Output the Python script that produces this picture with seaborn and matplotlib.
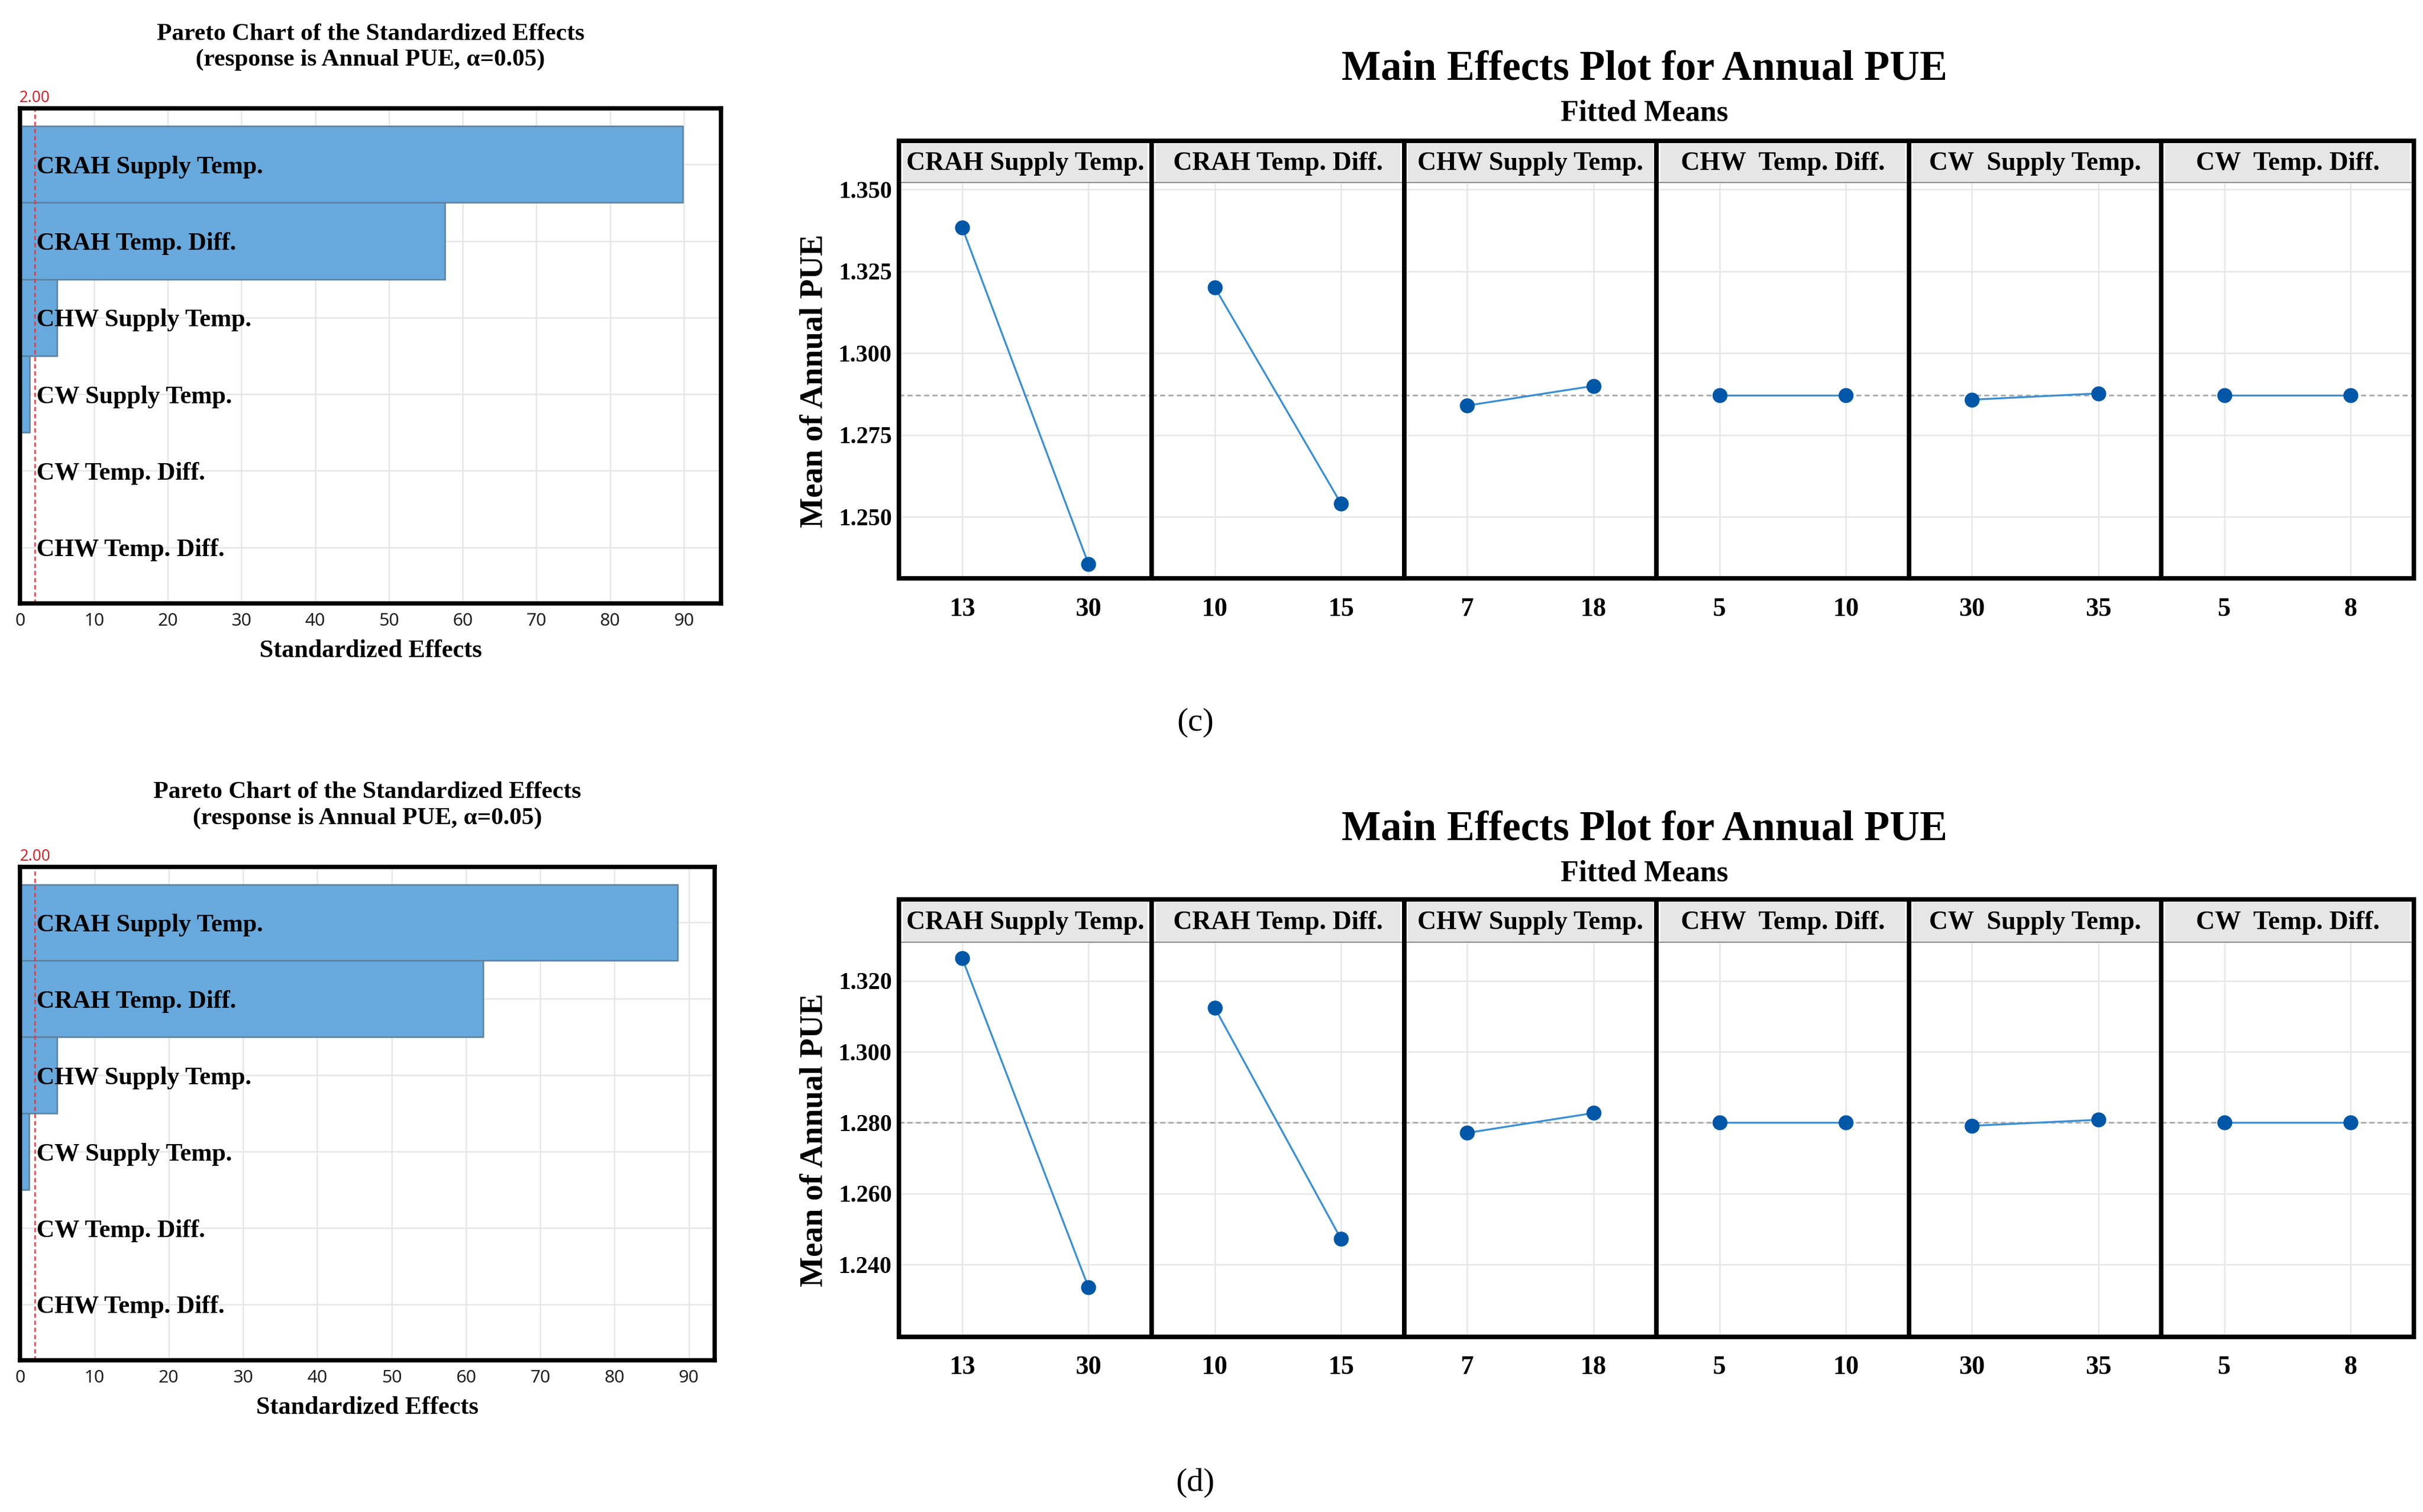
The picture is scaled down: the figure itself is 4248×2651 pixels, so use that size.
import numpy as np
import pandas as pd
import matplotlib.pyplot as plt
import seaborn as sns
from matplotlib.patches import Rectangle

# Pareto chart data (standardized effects)
factors = ["CRAH Supply Temp.", "CRAH Temp. Diff.", "CHW Supply Temp.",
           "CW Supply Temp.", "CW Temp. Diff.", "CHW Temp. Diff."]
effects_c = [89.8, 57.6, 5.0, 1.3, 0.0, 0.0]
effects_d = [88.5, 62.3, 5.0, 1.2, 0.0, 0.0]
t_crit = 2.00

# main effects data (fitted means)
panel_names = ["CRAH Supply Temp.", "CRAH Temp. Diff.", "CHW Supply Temp.",
               "CHW  Temp. Diff.", "CW  Supply Temp.", "CW  Temp. Diff."]
levels = [["13", "30"], ["10", "15"], ["7", "18"], ["5", "10"], ["30", "35"], ["5", "8"]]
means_c = [[1.3383, 1.2356], [1.3201, 1.2541], [1.2840, 1.2900],
           [1.2871, 1.2871], [1.2858, 1.2877], [1.2871, 1.2871]]
means_d = [[1.3263, 1.2335], [1.3124, 1.2472], [1.2771, 1.2827],
           [1.2800, 1.2800], [1.2791, 1.2808], [1.2800, 1.2800]]
grand_c = 1.2871
grand_d = 1.2800
yticks_c = [1.250, 1.275, 1.300, 1.325, 1.350]
yticks_d = [1.240, 1.260, 1.280, 1.300, 1.320]
ylim_c = (1.2312, 1.3520)
ylim_d = (1.2196, 1.3307)

sns.set_style("white")
plt.rcParams["font.family"] = ["Liberation Serif", "DejaVu Serif"]
plt.rcParams["text.color"] = "black"
plt.rcParams["axes.labelcolor"] = "black"
plt.rcParams["xtick.color"] = "black"
plt.rcParams["ytick.color"] = "black"

SANS = "Noto Sans"
BAR = "#67a9dc"
BAR_EDGE = "#5b7f9e"
LINE = "#3a8fd4"
DOT = "#0057a8"
GRID = "#e6e6e6"

fig = plt.figure(figsize=(14.16, 8.837), dpi=300)


def pareto(box, effects, xmax):
    ax = fig.add_axes(box)
    df = pd.DataFrame({"factor": factors, "effect": effects})
    sns.barplot(data=df, x="effect", y="factor", orient="h", width=1.0,
                color=BAR, edgecolor=BAR_EDGE, linewidth=0.6, saturation=1, ax=ax)
    ax.set_ylim(len(factors) - 0.27, -0.73)
    ax.set_xlim(0, xmax)
    ax.set_xticks(np.arange(0, 91, 10))
    # grid behind the bars, factor names on top of them
    ax.grid(False)
    for xv in ax.get_xticks():
        ax.axvline(xv, color=GRID, linewidth=0.6, zorder=0)
    for yv in ax.get_yticks():
        ax.axhline(yv, color=GRID, linewidth=0.6, zorder=0)
    ax.yaxis.set_zorder(5)
    ax.axvline(t_crit, color="#e0393e", linestyle=(0, (3, 2)), linewidth=0.6, zorder=3)
    ax.text(t_crit, 1.005, f"{t_crit:.2f}", color="#d0262c", fontsize=6.5,
            family=SANS, ha="center", va="bottom",
            transform=ax.get_xaxis_transform())
    ax.tick_params(axis="y", direction="out", length=2, width=0.5, color="#bbbbbb",
                   labelcolor="black", pad=-9, labelsize=10.5)
    for lbl in ax.get_yticklabels():
        lbl.set_ha("left")
        lbl.set_fontweight("bold")
    ax.tick_params(axis="x", length=2, width=0.5, color="#bbbbbb", labelcolor="#222222",
                   labelsize=7.5, pad=2)
    for lbl in ax.get_xticklabels():
        lbl.set_family(SANS)
    ax.set_ylabel("")
    ax.set_xlabel("Standardized Effects", fontsize=10.5, fontweight="bold", labelpad=4)
    for s in ax.spines.values():
        s.set_linewidth(1.8)
        s.set_color("black")
        s.set_zorder(6)
    ax.set_title("Pareto Chart of the Standardized Effects\n(response is Annual PUE, \u03b1=0.05)",
                 fontsize=10.3, fontweight="bold", pad=18, linespacing=1.25)


def main_effects(left, right, bottom, strip_bottom, top, means, grand, yticks, ylim, title_y):
    n = len(panel_names)
    w = (right - left) / n
    plot_h = strip_bottom - bottom
    strip_h = top - strip_bottom
    for i in range(n):
        ax = fig.add_axes([left + i * w, bottom, w, plot_h])
        d = pd.DataFrame({"level": levels[i], "pue": means[i]})
        sns.pointplot(data=d, x="level", y="pue", order=levels[i], color=LINE,
                      errorbar=None, markersize=0, linewidth=0.8, ax=ax)
        sns.stripplot(data=d, x="level", y="pue", order=levels[i], color=DOT,
                      jitter=False, size=6.3, linewidth=0, ax=ax, zorder=4)
        ax.axhline(grand, color="#aaaaaa", linestyle=(0, (3, 2)), linewidth=0.7, zorder=1)
        ax.set_xlim(-0.5, 1.5)
        ax.set_ylim(*ylim)
        ax.set_yticks(yticks)
        ax.grid(True, color=GRID, linewidth=0.6)
        ax.set_axisbelow(True)
        ax.set_xlabel("")
        ax.tick_params(axis="x", length=0, pad=8, labelsize=11)
        for lbl in ax.get_xticklabels():
            lbl.set_fontweight("bold")
        if i == 0:
            ax.set_yticklabels([f"{v:.3f}" for v in yticks])
            ax.tick_params(axis="y", length=0, pad=3, labelsize=10)
            for lbl in ax.get_yticklabels():
                lbl.set_fontweight("bold")
            ax.set_ylabel("Mean of Annual PUE", fontsize=13.5, fontweight="bold", labelpad=4)
        else:
            ax.set_yticklabels([])
            ax.tick_params(axis="y", length=0)
            ax.set_ylabel("")
        for s in ax.spines.values():
            s.set_visible(False)
        # facet strip
        sax = fig.add_axes([left + i * w, strip_bottom, w, strip_h])
        sax.set_xticks([])
        sax.set_yticks([])
        sax.add_patch(Rectangle((0.015, 0.0), 0.97, 0.93, transform=sax.transAxes,
                                facecolor="#e6e6e6", edgecolor="none"))
        sax.axhline(0.0, color="#8c8c8c", linewidth=1.0)
        for s in sax.spines.values():
            s.set_visible(False)
        sax.text(0.5, 0.46, panel_names[i], ha="center", va="center",
                 fontsize=11, fontweight="bold", transform=sax.transAxes)
        # thick panel border
        fig.add_artist(Rectangle((left + i * w, bottom), w, plot_h + strip_h,
                                 transform=fig.transFigure, fill=False,
                                 edgecolor="black", linewidth=1.9, zorder=10))
    cx = (left + right) / 2
    fig.text(cx - 0.005, title_y, "Main Effects Plot for Annual PUE", ha="center", va="center",
             fontsize=17.5, fontweight="bold")
    fig.text(cx - 0.005, title_y - 0.029, "Fitted Means", ha="center", va="center",
             fontsize=12.5, fontweight="bold")


pareto([0.0083, 0.601, 0.2892, 0.3272], effects_c, 95.0)
pareto([0.0083, 0.1005, 0.2867, 0.3262], effects_d, 93.5)

main_effects(0.3711, 0.9962, 0.6174, 0.879, 0.9067, means_c, grand_c,
             yticks_c, ylim_c, 0.954)
main_effects(0.3711, 0.9962, 0.1159, 0.3764, 0.4051, means_d, grand_d,
             yticks_d, ylim_d, 0.4513)

fig.text(0.4933, 0.522, "(c)", ha="center", va="center", fontsize=14)
fig.text(0.4933, 0.0195, "(d)", ha="center", va="center", fontsize=14)

fig.savefig("out.png", dpi=300)
